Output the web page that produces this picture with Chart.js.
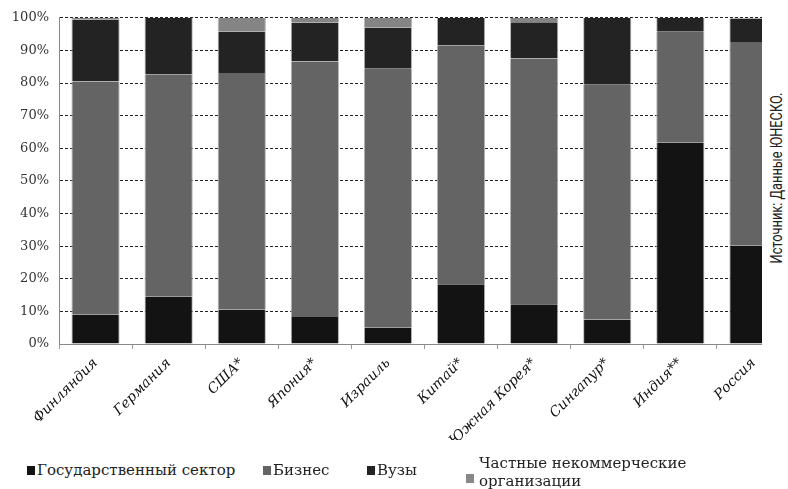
<!DOCTYPE html>
<html>
<head>
<meta charset="utf-8">
<script src="https://cdn.jsdelivr.net/npm/chart.js@4"></script>
<style>
  body { margin: 0; background: #fff; width: 788px; height: 489px; overflow: hidden; position: relative; }
  #wrap { position: absolute; left: 0; top: 0; width: 762px; height: 460px; overflow: hidden; }
  #box { position: relative; width: 790px; height: 460px; }
  .leg { position: absolute; font: 15px "DejaVu Serif", serif; color: #222; white-space: nowrap; }
  .mk { display: inline-block; width: 8px; height: 9px; margin-right: 2px; }
  #src { position: absolute; left: 776px; top: 178px; transform: translate(-50%, -50%) rotate(-90deg) scaleX(0.8);
         font: 16px "Liberation Sans Narrow", "Roboto", sans-serif; color: #222; white-space: nowrap; }
</style>
</head>
<body>
<div id="wrap"><div id="box"><canvas id="chart"></canvas></div></div>
<div class="leg" style="left:27px;top:461px"><span class="mk" style="background:#131313"></span>Государственный сектор</div>
<div class="leg" style="left:263px;top:461px"><span class="mk" style="background:#646464"></span>Бизнес</div>
<div class="leg" style="left:367px;top:461px"><span class="mk" style="background:#232323"></span>Вузы</div>
<div class="leg" style="left:466px;top:469px"><span class="mk" style="background:#888"></span></div>
<div class="leg" style="left:479px;top:454px;line-height:18px">Частные некоммерческие<br>организации</div>
<div id="src">Источник: Данные ЮНЕСКО.</div>
<script>
const countries = ['Финляндия', 'Германия', 'США*', 'Япония*', 'Израиль', 'Китай*', 'Южная Корея*', 'Сингапур*', 'Индия**', 'Россия'];
const government = [9.0, 14.5, 10.6, 8.3, 5.0, 18.3, 12.2, 7.5, 61.7, 30.1];
const business = [71.5, 68.2, 72.5, 78.3, 79.4, 73.3, 75.3, 72.0, 34.0, 62.5];
const universities = [19.0, 17.3, 12.7, 11.9, 12.6, 8.4, 11.1, 20.5, 4.3, 7.2];
const privateNonProfit = [0.5, 0, 4.2, 1.5, 3.0, 0, 1.4, 0, 0, 0.2];
const yTicks = [0, 10, 20, 30, 40, 50, 60, 70, 80, 90, 100];

const seriesNames = ['Государственный сектор', 'Бизнес', 'Вузы', 'Частные некоммерческие организации'];
const seriesColors = ['#131313', '#646464', '#232323', '#858585'];
const seriesData = [government, business, universities, privateNonProfit];

const ctx = document.getElementById('chart').getContext('2d');
new Chart(ctx, {
    type: 'bar',
    data: {
        labels: countries,
        datasets: seriesData.map((d, i) => ({
            label: seriesNames[i],
            data: d,
            backgroundColor: seriesColors[i],
            borderColor: '#b5b5b5',
            borderWidth: { left: 1, right: 1, top: 0, bottom: 0 },
            borderSkipped: false,
            barPercentage: 0.66,
            categoryPercentage: 1
        }))
    },
    options: {
        responsive: true,
        maintainAspectRatio: false,
        animation: false,
        layout: { padding: { top: 6, left: 0, right: 0, bottom: 20 } },
        plugins: {
            legend: { display: false },
            tooltip: { enabled: false }
        },
        scales: {
            x: {
                stacked: true,
                grid: { offset: true, drawOnChartArea: false, drawTicks: true, tickLength: 5, color: '#999' },
                border: { color: '#888', width: 1 },
                ticks: {
                    autoSkip: false,
                    maxRotation: 45,
                    minRotation: 45,
                    padding: 6,
                    color: '#111',
                    font: { family: 'DejaVu Serif', style: 'italic', size: 14 }
                },
                afterFit: s => { s.height = 96; }
            },
            y: {
                stacked: true,
                min: 0,
                max: 100,
                afterBuildTicks: s => { s.ticks = yTicks.map(v => ({ value: v })); },
                grid: { color: '#222', lineWidth: 1, drawTicks: false },
                border: { color: '#888', width: 1, dash: [3, 2] },
                ticks: {
                    padding: 10,
                    color: '#333',
                    font: { family: 'DejaVu Serif', size: 13 },
                    callback: v => v + '%'
                },
                afterFit: s => { s.width = 59; }
            }
        }
    }
});
</script>
</body>
</html>
